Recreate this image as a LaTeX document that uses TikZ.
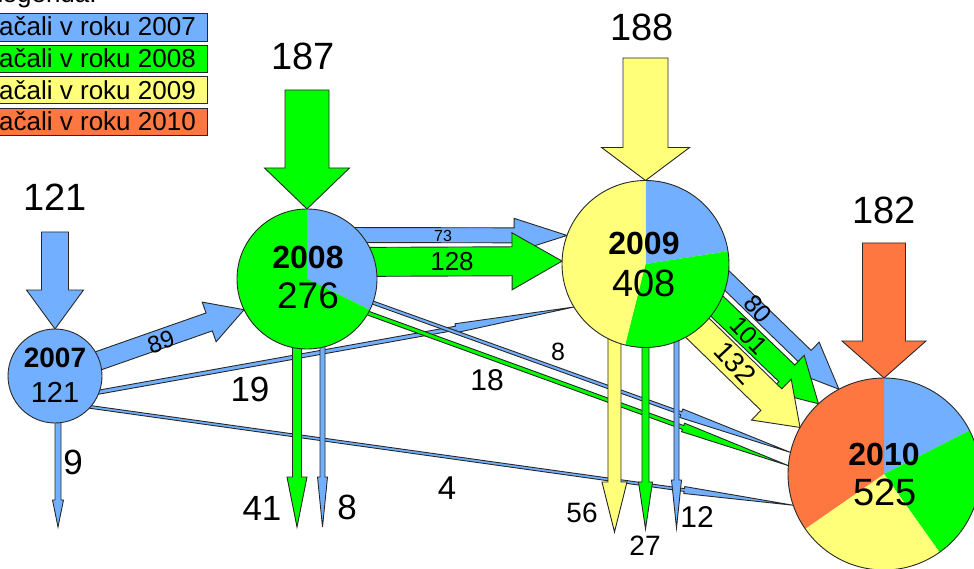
\documentclass[tikz,border=0pt]{standalone}
\usepackage{fontspec}
\setmainfont{Liberation Sans}
\usetikzlibrary{calc}

\definecolor{flowblue}{RGB}{114,176,255}
\definecolor{flowgreen}{RGB}{0,255,0}
\definecolor{flowyellow}{RGB}{255,255,122}
\definecolor{floworange}{RGB}{255,119,64}
\definecolor{edgegray}{RGB}{40,40,40}

% Block arrow: start, tip, half shaft width, half head width, head length, fill colour
\newcommand\flowarrow[6]{%
  \coordinate (fa-h) at ($(#2)!#5!(#1)$);
  \filldraw[fill=#6, draw=edgegray, line width=0.9pt, line join=miter]
    ($(#1)!#3!90:(#2)$) -- ($(fa-h)!#3!90:(#2)$) -- ($(fa-h)!#4!90:(#2)$) -- (#2)
    -- ($(fa-h)!#4!-90:(#2)$) -- ($(fa-h)!#3!-90:(#2)$) -- ($(#1)!#3!-90:(#2)$) -- cycle;}

% Pie slice: centre, radius, start angle, end angle, colour
\newcommand\pieslice[5]{%
  \fill[#5] (#1) -- ++(#3:#2) arc[start angle=#3, end angle=#4, radius=#2] -- cycle;}

\tikzset{
  yearnode/.style={circle, inner sep=0pt, outer sep=0pt, minimum size=#1},
  ring/.style={draw=edgegray, line width=0.9pt},
  lbl/.style={inner sep=0pt, font=\fontsize{#1}{#1}\selectfont},
  yearlbl/.style={inner sep=0pt, font=\bfseries\fontsize{#1}{#1}\selectfont},
  legendbox/.style={draw=edgegray, line width=0.9pt},
}

\begin{document}
\begin{tikzpicture}[x=1pt, y=-1pt]
\useasboundingbox (0,0) rectangle (974,569);
\clip (0,0) rectangle (974,569);
\fill[white] (0,0) rectangle (974,569);

% ---- year circles (placed first, drawn later) ----
\node[yearnode=94pt]  (n2007) at (55,376) {};
\node[yearnode=140pt] (n2008) at (307,279) {};
\node[yearnode=167pt] (n2009) at (645.5,264) {};
\node[yearnode=192pt] (n2010) at (884,474) {};

% ---- free ends ----
\coordinate (in2007) at (55,232);
\coordinate (in2008) at (307,90);
\coordinate (in2009) at (645.5,58);
\coordinate (in2010) at (884,243);
\coordinate (out9)  at (58,527);
\coordinate (out41) at (297,527);
\coordinate (out8)  at (322.5,527);
\coordinate (out56) at (614.5,532);
\coordinate (out27) at (645.5,529);
\coordinate (out12) at (676.5,528);

% ---- thin tapered flows ----
\flowarrow{$(n2007.center)+(0,24)$}{n2009.211}{2pt}{4.5pt}{120pt}{flowblue}
\flowarrow{$(n2007.center)+(0,26)$}{n2010.199}{1.4pt}{3.5pt}{110pt}{flowblue}
\flowarrow{n2008.center}{n2010.167}{1.6pt}{4.5pt}{116pt}{flowblue}
\flowarrow{$(n2008.center)+(0,12)$}{n2010.175}{2pt}{4.5pt}{112pt}{flowgreen}

% ---- outflows (downwards) ----
\flowarrow{$(n2007.center)+(3,20)$}{out9}{3pt}{5.5pt}{27pt}{flowblue}
\flowarrow{$(n2008.center)+(-10,50)$}{out41}{4.5pt}{10pt}{50pt}{flowgreen}
\flowarrow{$(n2008.center)+(15.5,50)$}{out8}{2.5pt}{5pt}{50pt}{flowblue}
\flowarrow{$(n2009.center)+(-31,60)$}{out56}{6.5pt}{12.5pt}{50pt}{flowyellow}
\flowarrow{$(n2009.center)+(0,60)$}{out27}{3.5pt}{7pt}{47pt}{flowgreen}
\flowarrow{$(n2009.center)+(31,60)$}{out12}{2.5pt}{5pt}{48pt}{flowblue}

% ---- new students each year ----
\flowarrow{in2007}{n2007.north}{13.5pt}{28.5pt}{39pt}{flowblue}
\flowarrow{in2008}{n2008.north}{22pt}{42.5pt}{41pt}{flowgreen}
\flowarrow{in2009}{n2009.north}{22.5pt}{44pt}{33pt}{flowyellow}
\flowarrow{in2010}{n2010.north}{21.5pt}{42pt}{37pt}{floworange}

% ---- flows between years ----
\flowarrow{n2007.center}{n2008.206}{9.5pt}{21pt}{37pt}{flowblue}
\flowarrow{$(n2008.center)+(30,-44)$}{n2009.160}{7.5pt}{17pt}{53pt}{flowblue}
\flowarrow{$(n2008.center)+(30,-17)$}{n2009.178}{14.5pt}{28.5pt}{50pt}{flowgreen}
\flowarrow{$(n2009.center)+(70.5,6)$}{n2010.118}{8.5pt}{20pt}{47pt}{flowblue}
\flowarrow{$(n2009.center)+(50.5,22)$}{n2010.133}{11.5pt}{25pt}{44pt}{flowgreen}
\flowarrow{$(n2009.center)+(32.5,45)$}{n2010.151}{15pt}{28.5pt}{40pt}{flowyellow}

% ---- pies ----
\fill[flowblue] (n2007.center) circle[radius=47pt];
\draw[ring] (n2007.center) circle[radius=47pt];

\pieslice{n2008.center}{70pt}{90}{-26.09}{flowblue}
\pieslice{n2008.center}{70pt}{-26.09}{-270}{flowgreen}
\draw[ring] (n2008.center) circle[radius=70pt];

\pieslice{n2009.center}{83.5pt}{90}{8.82}{flowblue}
\pieslice{n2009.center}{83.5pt}{8.82}{-104.12}{flowgreen}
\pieslice{n2009.center}{83.5pt}{-104.12}{-270}{flowyellow}
\draw[ring] (n2009.center) circle[radius=83.5pt];

\pieslice{n2010.center}{96pt}{90}{26.91}{flowblue}
\pieslice{n2010.center}{96pt}{26.91}{-54.69}{flowgreen}
\pieslice{n2010.center}{96pt}{-54.69}{-145.2}{flowyellow}
\pieslice{n2010.center}{96pt}{-145.2}{-270}{floworange}
\draw[ring] (n2010.center) circle[radius=96pt];

% ---- circle texts ----
\node[yearlbl=28] (t2007a) at (55,358) {2007};
\node[lbl=29]     (t2007b) at (55,392) {121};
\node[yearlbl=32] (t2008a) at (308,257) {2008};
\node[lbl=37]     (t2008b) at (308,296) {276};
\node[yearlbl=32] (t2009a) at (644,243) {2009};
\node[lbl=38]     (t2009b) at (644,283) {408};
\node[yearlbl=32] (t2010a) at (884,454) {2010};
\node[lbl=38]     (t2010b) at (885,492) {525};

% ---- numbers of new students ----
\node[lbl=38] (l121) at (55,197) {121};
\node[lbl=38] (l187) at (303,56) {187};
\node[lbl=38] (l188) at (642,27) {188};
\node[lbl=38] (l182) at (884,210) {182};

% ---- flow labels ----
\node[lbl=24, rotate=19.3] (l89) at (161,342) {89};
\node[lbl=16] (l73) at (443,236) {73};
\node[lbl=26] (l128) at (452,262) {128};
\node[lbl=25, rotate=-48] (l80) at (758,309) {80};
\node[lbl=25, rotate=-46] (l101) at (749,336) {101};
\node[lbl=28, rotate=-47] (l132) at (735,363) {132};
\node[lbl=35] (l19) at (250,389) {19};
\node[lbl=30] (l18) at (487,380) {18};
\node[lbl=25] (l8b) at (558,352) {8};
\node[lbl=33] (l4) at (447,488) {4};
\node[lbl=35] (l9) at (73,462) {9};
\node[lbl=35] (l41) at (262,508) {41};
\node[lbl=35] (l8) at (347,507) {8};
\node[lbl=28] (l56) at (582,513) {56};
\node[lbl=28] (l27) at (645,546) {27};
\node[lbl=30] (l12) at (697,517) {12};

% ---- legend ----
\node[lbl=26, anchor=base west] (leg) at (-12,3) {Legenda:};
\filldraw[legendbox, fill=flowblue]   (-10,13) rectangle (207,41);
\filldraw[legendbox, fill=flowgreen]  (-10,45) rectangle (207,72);
\filldraw[legendbox, fill=flowyellow] (-10,76) rectangle (207,103);
\filldraw[legendbox, fill=floworange] (-10,108) rectangle (207,135);
\node[lbl=26, anchor=base east] (leg7)  at (196,36)    {Začali v roku 2007};
\node[lbl=26, anchor=base east] (leg8)  at (196,67.7)  {Začali v roku 2008};
\node[lbl=26, anchor=base east] (leg9)  at (196,99.3)  {Začali v roku 2009};
\node[lbl=26, anchor=base east] (leg10) at (196,130.7) {Začali v roku 2010};
\end{tikzpicture}
\end{document}
